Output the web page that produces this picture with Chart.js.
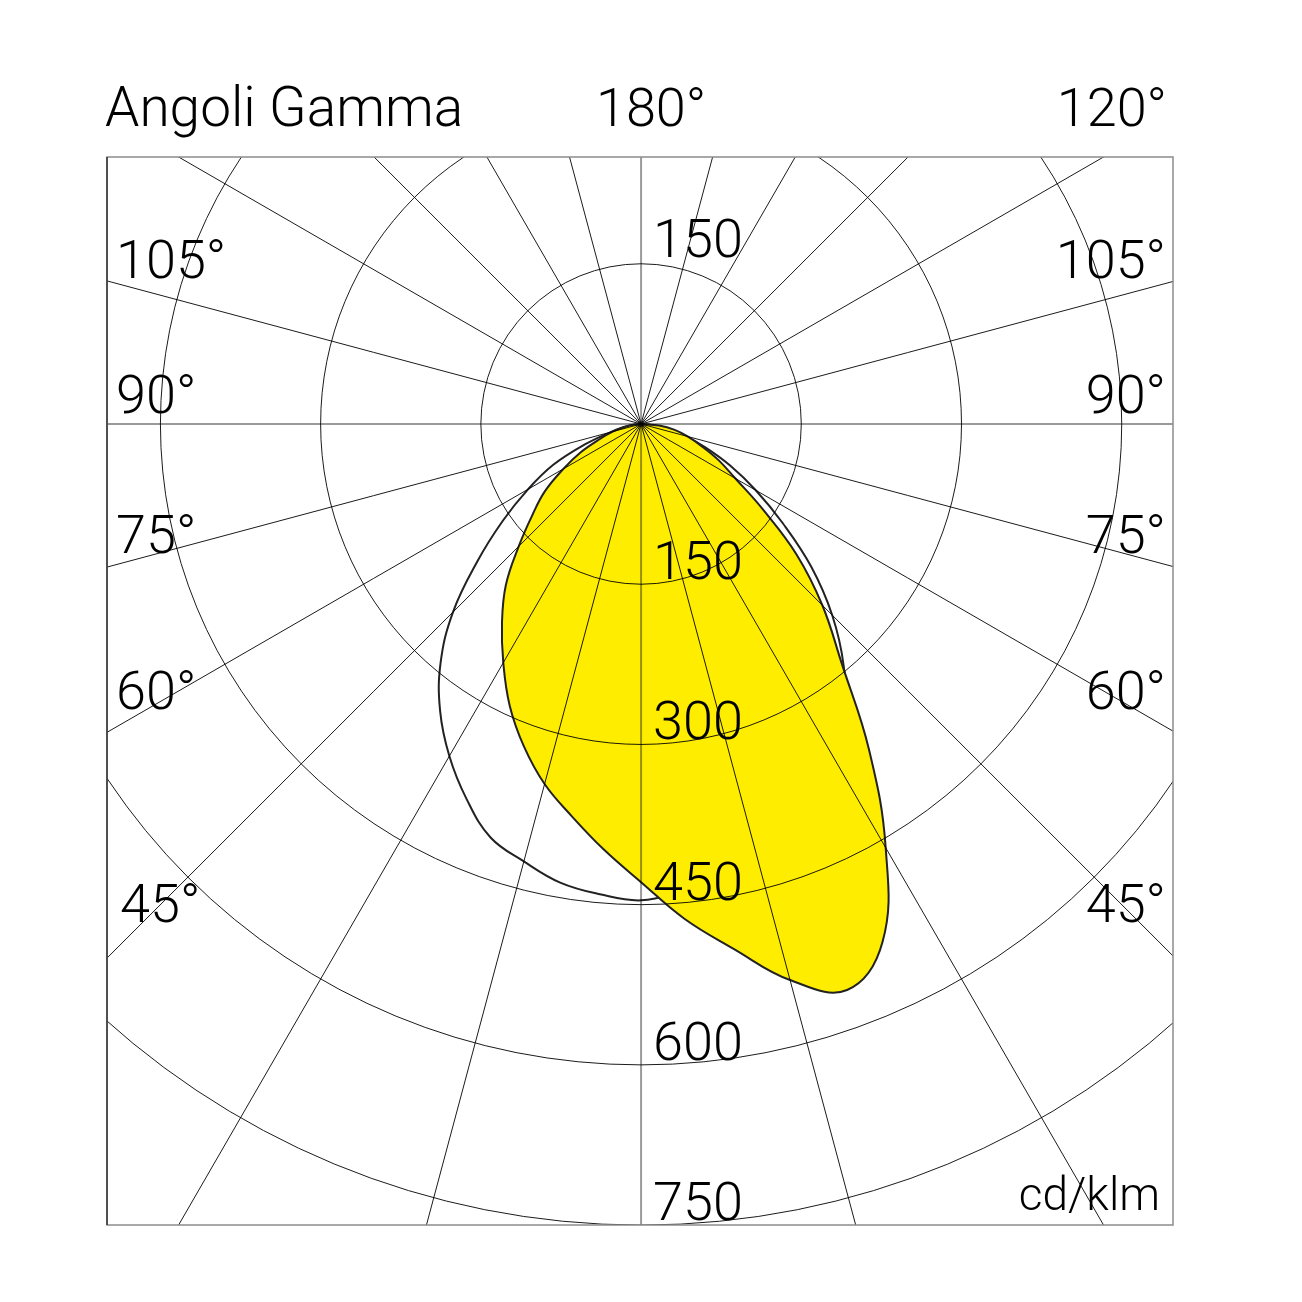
<!DOCTYPE html>
<html>
<head>
<meta charset="utf-8">
<script src="https://cdn.jsdelivr.net/npm/chart.js@4"></script>
<style>
  body { margin: 0; background: #fff; }
  canvas { display: block; }
</style>
</head>
<body>
<canvas id="chart" width="1302" height="1302"></canvas>
<script>
// gamma angle from straight down, negative = left side of the diagram
const gammaAngles = [-90, -85, -80, -75, -70, -65, -60, -55, -50, -45, -40, -35, -30, -25, -20, -15, -10, -5,
    0, 5, 10, 15, 20, 25, 30, 35, 40, 45, 50, 55, 60, 65, 70, 75, 80, 85, 90];
// cd/klm, yellow (filled) plane
const yellowCd = [0, 6, 15, 27, 41, 62, 84, 110, 133, 162, 197, 227, 258, 291, 321, 349, 373, 400,
    429, 465, 499, 539, 564, 535, 458, 372, 292, 240, 190, 139, 102, 80, 60, 45, 32, 17, 0];
// cd/klm, black outline plane
const blackCd = [0, 7, 17, 30, 56, 91, 122, 158, 200, 249, 292, 328, 359, 387, 412, 424, 436, 442,
    446, 439, 431, 422, 412, 389, 361, 333, 295, 253, 208, 162, 124, 92, 64, 42, 25, 10, 0];

const ringValues = [150, 300, 450, 600, 750];
const spokeStep = 15;
const sideLabels = ['105°', '90°', '75°', '60°', '45°'];
const topLabels = ['Angoli Gamma', '180°', '120°'];
const unitLabel = 'cd/klm';

function toXY(values) {
    return gammaAngles.map((g, i) => {
        const a = g * Math.PI / 180;
        return { x: values[i] * Math.sin(a), y: -values[i] * Math.cos(a) };
    });
}

const FONT = '300 54px Roboto, "Liberation Sans", sans-serif';

const polarGrid = {
    id: 'polarGrid',
    afterDatasetsDraw(chart) {
        const { ctx, chartArea: ca, scales: { x, y } } = chart;
        const cx = x.getPixelForValue(0), cy = y.getPixelForValue(0);
        const unit = x.getPixelForValue(1) - cx;
        ctx.save();
        ctx.beginPath();
        ctx.rect(ca.left, ca.top, ca.right - ca.left, ca.bottom - ca.top);
        ctx.clip();
        ctx.globalCompositeOperation = 'multiply';
        // rings
        ctx.strokeStyle = '#1a1a1a';
        ctx.lineWidth = 1;
        ringValues.forEach(v => {
            ctx.beginPath();
            ctx.arc(cx, cy, v * unit, 0, Math.PI * 2);
            ctx.stroke();
        });
        // spokes
        for (let a = 0; a < 360; a += spokeStep) {
            const r = a * Math.PI / 180;
            const main = a % 90 === 0;
            ctx.strokeStyle = main ? '#9a9a9a' : '#1a1a1a';
            ctx.lineWidth = main ? 2 : 1;
            ctx.beginPath();
            ctx.moveTo(cx, cy);
            ctx.lineTo(cx + Math.sin(r) * 2000, cy + Math.cos(r) * 2000);
            ctx.stroke();
        }
        ctx.restore();
        // frame
        ctx.save();
        ctx.strokeStyle = '#8c8c8c';
        ctx.lineWidth = 1.5;
        ctx.strokeRect(ca.left, ca.top, ca.right - ca.left, ca.bottom - ca.top);
        ctx.strokeStyle = '#333';
        ctx.beginPath();
        ctx.moveTo(ca.left, ca.top);
        ctx.lineTo(ca.left, ca.bottom);
        ctx.stroke();
        ctx.restore();
    },
    afterDraw(chart) {
        const { ctx, chartArea: ca, scales: { x, y } } = chart;
        const cx = x.getPixelForValue(0);
        ctx.save();
        ctx.fillStyle = '#000';
        ctx.font = FONT;
        ctx.textBaseline = 'alphabetic';

        // header
        ctx.textAlign = 'left';
        ctx.font = '300 55px Roboto, "Liberation Sans", sans-serif';
        ctx.fillText(topLabels[0], ca.left - 2, 126);
        ctx.font = FONT;
        ctx.textAlign = 'center';
        ctx.fillText(topLabels[1], cx + 10, 126);
        ctx.textAlign = 'right';
        ctx.fillText(topLabels[2], ca.right - 6, 126);

        // gamma labels on both sides
        const baselines = [278, 413, 553, 709, 922];
        sideLabels.forEach((t, i) => {
            ctx.textAlign = 'left';
            ctx.fillText(t, ca.left + 9 + (i === 4 ? 4 : 0), baselines[i]);
            ctx.textAlign = 'right';
            ctx.fillText(t, ca.right - 7, baselines[i]);
        });

        // ring values
        ctx.textAlign = 'left';
        ringValues.forEach(v => {
            ctx.fillText(String(v), cx + 12, y.getPixelForValue(-v) - 5);
        });
        ctx.fillText(String(ringValues[0]), cx + 12, y.getPixelForValue(ringValues[0]) - 7);

        // unit
        ctx.textAlign = 'right';
        ctx.font = '300 46px Roboto, "Liberation Sans", sans-serif';
        ctx.fillText(unitLabel, ca.right - 13, 1210);
        ctx.restore();
    }
};

new Chart(document.getElementById('chart').getContext('2d'), {
    type: 'scatter',
    data: {
        datasets: [
            {
                label: 'yellow',
                data: toXY(yellowCd),
                showLine: true,
                fill: 'shape',
                backgroundColor: '#ffed00',
                borderColor: '#222',
                borderWidth: 2,
                pointRadius: 0,
                tension: 0.4
            },
            {
                label: 'black',
                data: toXY(blackCd),
                showLine: true,
                fill: false,
                borderColor: '#222',
                borderWidth: 2,
                pointRadius: 0,
                tension: 0.4
            }
        ]
    },
    options: {
        responsive: false,
        animation: false,
        layout: { padding: { left: 107, right: 129, top: 157, bottom: 77 } },
        plugins: { legend: { display: false }, tooltip: { enabled: false } },
        scales: {
            x: { type: 'linear', min: -500, max: 498, display: false },
            y: { type: 'linear', min: -750, max: 250, display: false }
        }
    },
    plugins: [polarGrid]
});
</script>
</body>
</html>
